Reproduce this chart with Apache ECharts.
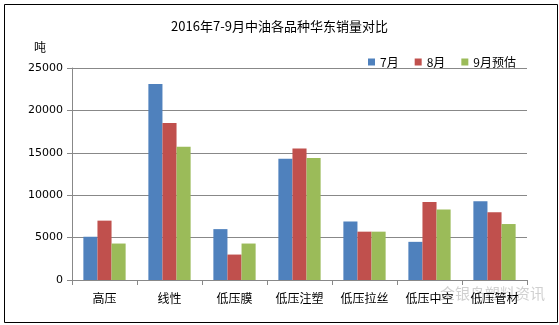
<!DOCTYPE html>
<html>
<head>
<meta charset="utf-8">
<script src="https://cdn.jsdelivr.net/npm/echarts@6/dist/echarts.min.js"></script>
<style>
  html, body { margin: 0; padding: 0; background: #fff; }
  #chart { width: 559px; height: 325px; }
</style>
</head>
<body>
<div id="chart"></div>
<script>
// Product categories and monthly East China sales volumes (tonnes)
const categories = ['高压', '线性', '低压膜', '低压注塑', '低压拉丝', '低压中空', '低压管材'];
const seriesNames = ['7月', '8月', '9月预估'];
const julValues = [5100, 23100, 6000, 14300, 6900, 4500, 9300];
const augValues = [7000, 18500, 3000, 15500, 5700, 9200, 8000];
const sepValues = [4300, 15700, 4300, 14400, 5700, 8300, 6600];
const yTicks = [0, 5000, 10000, 15000, 20000, 25000];

const colors = ['#4F81BD', '#C0504D', '#9BBB59'];
const font = '"Noto Sans CJK SC", "DejaVu Sans", sans-serif';

const chart = echarts.init(document.getElementById('chart'), null, { renderer: 'canvas' });

chart.setOption({
  animation: false,
  backgroundColor: '#fff',
  color: colors,
  title: {
    text: '2016年7-9月中油各品种华东销量对比',
    left: 'center',
    top: 15,
    textStyle: { fontFamily: font, fontSize: 13, fontWeight: 'normal', color: '#000' }
  },
  legend: {
    data: seriesNames,
    right: 38,
    top: 51,
    itemWidth: 7,
    itemHeight: 7,
    itemGap: 16,
    icon: 'rect',
    textStyle: { fontFamily: font, fontSize: 12, color: '#000' }
  },
  grid: { left: 72, right: 32, top: 68, bottom: 45, containLabel: false },
  xAxis: {
    type: 'category',
    data: categories,
    axisLine: { lineStyle: { color: '#888', width: 1 } },
    axisTick: { show: true, alignWithLabel: false, length: 5, lineStyle: { color: '#888' } },
    axisLabel: { fontFamily: font, fontSize: 12, color: '#000', margin: 12, interval: 0 }
  },
  yAxis: {
    type: 'value',
    min: yTicks[0],
    max: yTicks[yTicks.length - 1],
    interval: yTicks[1] - yTicks[0],
    name: '吨',
    nameLocation: 'end',
    nameGap: 15,
    nameTextStyle: { fontFamily: font, fontSize: 12, color: '#000', align: 'right', padding: [0, 26, 0, 0] },
    axisLine: { show: true, lineStyle: { color: '#888' } },
    axisTick: { show: true, length: 5, inside: false, lineStyle: { color: '#888' } },
    axisLabel: {
      fontFamily: '"DejaVu Sans", sans-serif',
      fontSize: 11,
      color: '#000',
      margin: 9,
      formatter: v => String(v)
    },
    splitLine: { show: true, lineStyle: { color: '#888', width: 1 } }
  },
  series: [
    { name: seriesNames[0], type: 'bar', data: julValues, barGap: '0%', barCategoryGap: '35%' },
    { name: seriesNames[1], type: 'bar', data: augValues, barGap: '0%', barCategoryGap: '35%' },
    { name: seriesNames[2], type: 'bar', data: sepValues, barGap: '0%', barCategoryGap: '35%' }
  ],
  graphic: [
    {
      type: 'rect',
      left: 2, top: 2,
      shape: { width: 553, height: 318 },
      style: { fill: 'none', stroke: '#000', lineWidth: 1 },
      silent: true
    },
    {
      type: 'text',
      left: 440, top: 286,
      style: {
        text: '金银岛塑料资讯',
        font: '15px ' + font,
        fill: 'rgba(150,150,150,0.45)'
      },
      silent: true
    }
  ]
});
</script>
</body>
</html>
